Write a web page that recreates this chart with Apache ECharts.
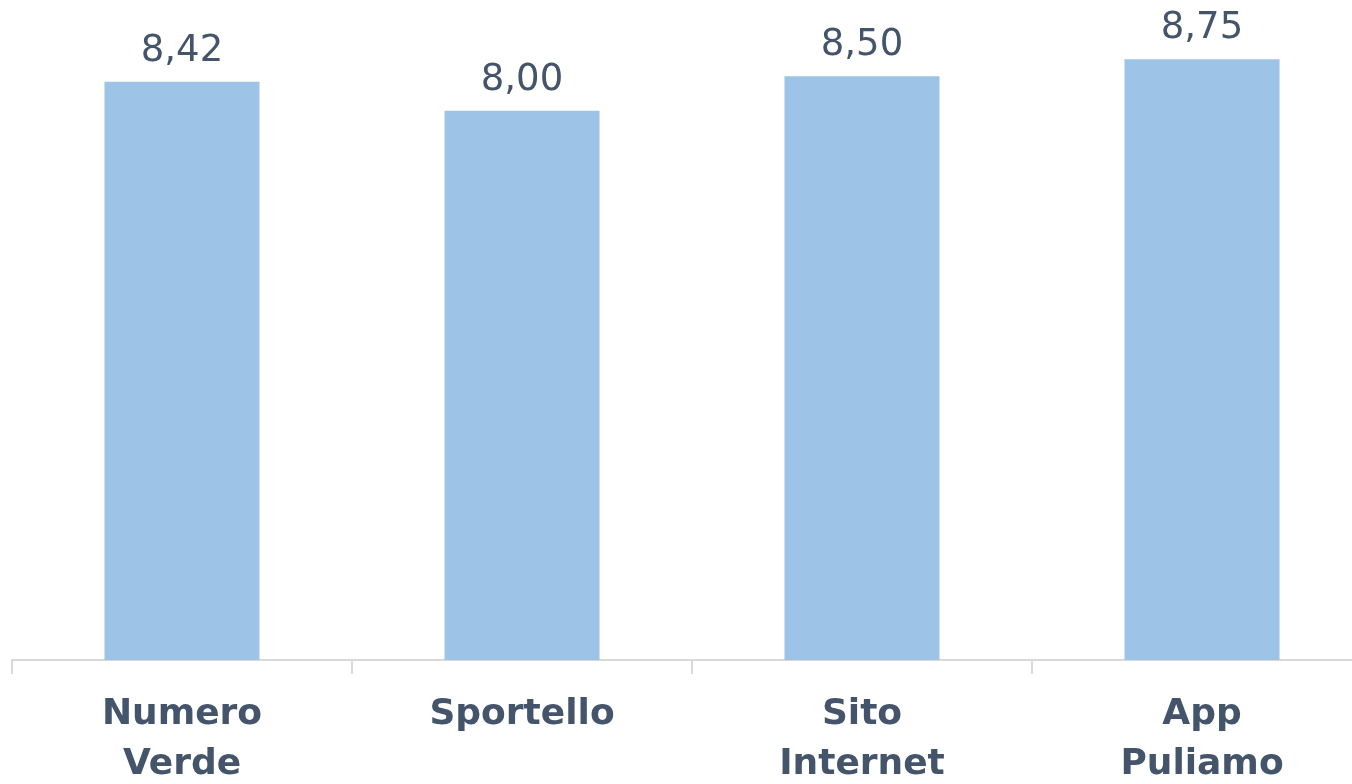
<!DOCTYPE html>
<html>
<head>
<meta charset="utf-8">
<script src="https://cdn.jsdelivr.net/npm/echarts@6/dist/echarts.min.js"></script>
<style>html,body{margin:0;padding:0;background:#fff;}#c{width:1352px;height:784px;}</style>
</head>
<body>
<div id="c"></div>
<script>
const categories = ['Numero\nVerde', 'Sportello', 'Sito\nInternet', 'App\nPuliamo'];
const values = [8.42, 8.00, 8.50, 8.75];

const chart = echarts.init(document.getElementById('c'));
chart.setOption({
  animation: false,
  grid: { left: 12, right: -20, top: 42, bottom: 124, containLabel: false, outerBoundsMode: 'none' },
  xAxis: {
    type: 'category',
    data: categories,
    axisLine: { lineStyle: { color: '#d9d9d9', width: 2 } },
    axisTick: { show: true, length: 14, lineStyle: { color: '#d9d9d9', width: 2 } },
    axisLabel: {
      color: '#44546a', fontFamily: 'DejaVu Sans', fontWeight: 'bold', fontSize: 36,
      lineHeight: 50, margin: 30
    }
  },
  yAxis: {
    type: 'value', min: 0, max: 9, show: false,
    splitLine: { show: false }
  },
  series: [{
    type: 'bar',
    data: values,
    barWidth: 155,
    itemStyle: { color: '#9dc3e6' },
    label: {
      show: true, position: 'top', distance: 12,
      color: '#44546a', fontFamily: 'DejaVu Sans', fontSize: 37,
      formatter: p => p.value.toFixed(2).replace('.', ',')
    }
  }]
});
</script>
</body>
</html>
